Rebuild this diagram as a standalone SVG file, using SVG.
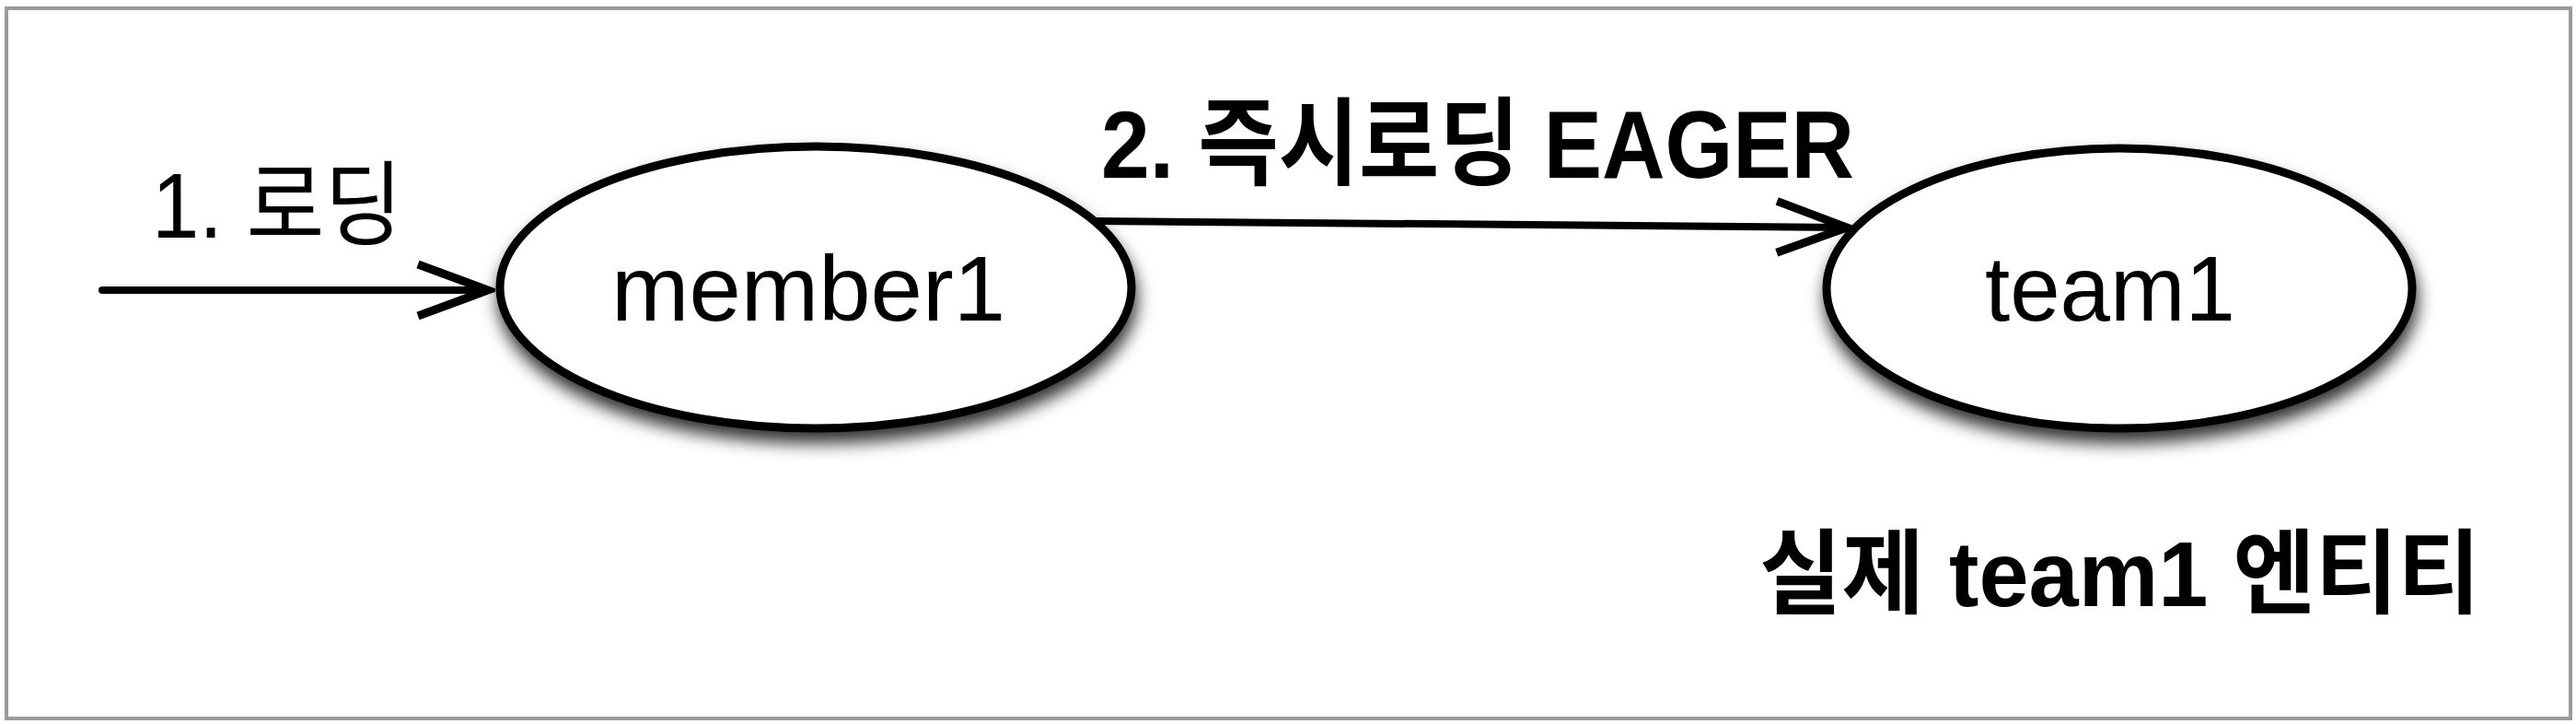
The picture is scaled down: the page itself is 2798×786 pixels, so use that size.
<svg xmlns="http://www.w3.org/2000/svg" width="2798" height="786" viewBox="0 0 2798 786">
<style>
  .node { fill: #ffffff; stroke: #000000; stroke-width: 9; filter: url(#shadow); }
  .conn { stroke: #000000; stroke-width: 8; fill: none; stroke-linecap: round; }
  .label { font-family: "Liberation Sans", "Noto Sans CJK KR", sans-serif; fill: #000000; }
  .thin { font-weight: normal; }
  .bold { font-weight: bold; }
</style>
<defs>
  <filter id="shadow" x="-10%" y="-10%" width="120%" height="145%">
    <feDropShadow dx="2" dy="12" stdDeviation="9" flood-color="#000000" flood-opacity="0.8"/>
  </filter>
  <marker id="open" markerUnits="userSpaceOnUse" viewBox="0 0 88 66" markerWidth="88" markerHeight="66" refX="80" refY="33" orient="auto">
    <path d="M4,5 L80,33 L4,61" fill="none" stroke="#000000" stroke-width="9"/>
  </marker>
</defs>
<rect x="0" y="0" width="2798" height="786" fill="#ffffff"/>
<rect id="frame" x="7" y="9" width="2785" height="771" fill="#ffffff" stroke="#9a9a9a" stroke-width="4"/>
<g id="connectors">
  <line class="conn" x1="111" y1="315" x2="530" y2="315" marker-end="url(#open)"/>
  <line class="conn" x1="1190" y1="240" x2="2006" y2="247" marker-end="url(#open)"/>
</g>
<g id="member1">
  <ellipse class="node" cx="886" cy="312" rx="343" ry="153"/>
  <text class="label" x="878" y="348" font-size="100" text-anchor="middle" textLength="428" lengthAdjust="spacingAndGlyphs">member1</text>
</g>
<g id="team1">
  <ellipse class="node" cx="2302" cy="313" rx="318" ry="152"/>
  <text class="label" x="2292" y="348" font-size="100" text-anchor="middle" textLength="272" lengthAdjust="spacingAndGlyphs">team1</text>
</g>
<g id="label-loading">
  <text class="label thin" x="165" y="258" font-size="100" textLength="272" lengthAdjust="spacingAndGlyphs">1. 로딩</text>
</g>
<g id="label-eager">
  <text class="label bold" x="1196" y="193" font-size="104" textLength="818" lengthAdjust="spacingAndGlyphs">2. 즉시로딩 EAGER</text>
</g>
<g id="label-entity">
  <text class="label bold" x="1911" y="658" font-size="100" textLength="783" lengthAdjust="spacingAndGlyphs">실제 team1 엔티티</text>
</g>
</svg>
